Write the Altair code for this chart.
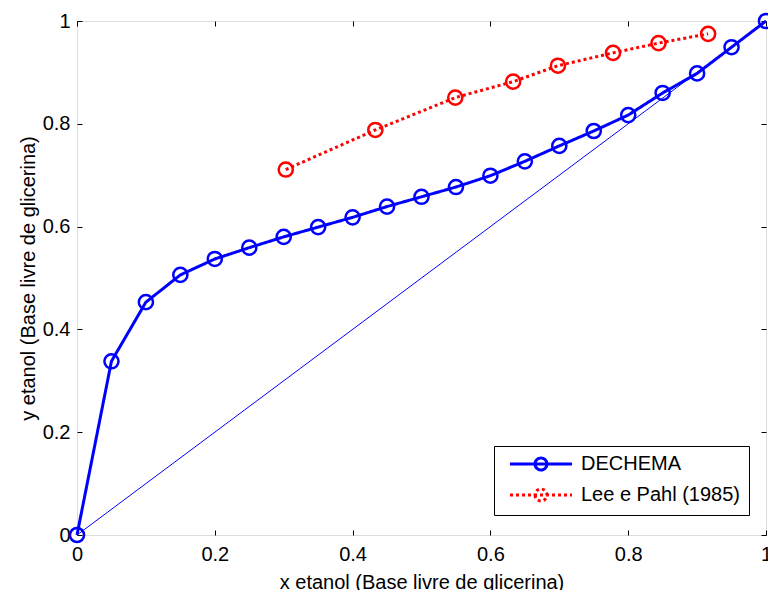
import altair as alt
import pandas as pd

series_names = ["DECHEMA", "Lee e Pahl (1985)"]

x_dechema = [0.00, 0.05, 0.10, 0.15, 0.20, 0.25, 0.30, 0.35, 0.40, 0.45, 0.50,
             0.55, 0.60, 0.65, 0.70, 0.75, 0.80, 0.85, 0.90, 0.95, 1.00]
y_dechema = [0.000, 0.338, 0.453, 0.506, 0.537, 0.559, 0.580, 0.599, 0.618, 0.639, 0.658,
             0.677, 0.699, 0.727, 0.757, 0.786, 0.817, 0.860, 0.898, 0.949, 1.000]

x_lee = [0.303, 0.433, 0.549, 0.633, 0.698, 0.778, 0.844, 0.916]
y_lee = [0.711, 0.788, 0.851, 0.882, 0.913, 0.938, 0.957, 0.975]

diag_x = [0.0, 1.0]
diag_y = [0.0, 1.0]

tick_vals = [0, 0.2, 0.4, 0.6, 0.8, 1]

df = pd.concat([
    pd.DataFrame({"x": x_dechema, "y": y_dechema, "serie": series_names[0]}),
    pd.DataFrame({"x": x_lee, "y": y_lee, "serie": series_names[1]}),
], ignore_index=True)
diag = pd.DataFrame({"x": diag_x, "y": diag_y})

FONT = "Liberation Sans"
FS = 20
xs = alt.Scale(domain=[0, 1], nice=False, zero=False)
ys = alt.Scale(domain=[0, 1], nice=False, zero=False)
color_scale = alt.Scale(domain=series_names, range=["#0000ff", "#ff0000"])
dash_scale = alt.Scale(domain=series_names, range=[[1, 0], [3, 3]])

common_axis = dict(values=tick_vals, format="~g", offset=-5, tickSize=5, domain=False,
                   grid=False, tickColor="black", labelFont=FONT, labelFontSize=FS,
                   labelColor="black", labelFlush=False, titleFont=FONT, titleFontSize=FS,
                   titleFontWeight="normal", titleColor="black")

ax_bottom = alt.Axis(orient="bottom", labelPadding=9, title="x etanol (Base livre de glicerina)",
                     titlePadding=8, **common_axis)
ax_left = alt.Axis(orient="left", labelPadding=7, title="y etanol (Base livre de glicerina)",
                   titlePadding=4, **common_axis)
ticks_only = dict(values=tick_vals, offset=-5, tickSize=5, domain=False, grid=False,
                  tickColor="black", labels=False, title=None)
ax_top = alt.Axis(orient="top", **ticks_only)
ax_right = alt.Axis(orient="right", **ticks_only)

sym_path = "M-4,0L4,0M-0.77,0A0.77,0.77,0,1,0,0.77,0A0.77,0.77,0,1,0,-0.77,0"
legend = alt.Legend(title=None, orient="none", legendX=417, legendY=425, padding=8,
                    strokeColor="black", fillColor="white", cornerRadius=0,
                    symbolType=sym_path, symbolSize=240, symbolStrokeWidth=3,
                    symbolOffset=29, labelOffset=30, rowPadding=7,
                    labelFont=FONT, labelFontSize=FS, labelColor="black")

diag_layer = alt.Chart(diag).mark_line(strokeWidth=1, color="#0000ff").encode(
    x=alt.X("x:Q", scale=xs, axis=ax_bottom),
    y=alt.Y("y:Q", scale=ys, axis=ax_left),
)

lines = alt.Chart(df).mark_line(strokeWidth=3).encode(
    x=alt.X("x:Q", scale=xs, axis=ax_top),
    y=alt.Y("y:Q", scale=ys, axis=ax_right),
    color=alt.Color("serie:N", scale=color_scale, legend=legend),
    strokeDash=alt.StrokeDash("serie:N", scale=dash_scale, legend=legend),
)

points = alt.Chart(df).mark_point(shape="circle", filled=False, size=200, strokeWidth=2.5,
                                  opacity=1).encode(
    x=alt.X("x:Q", scale=xs, axis=None),
    y=alt.Y("y:Q", scale=ys, axis=None),
    color=alt.Color("serie:N", scale=color_scale, legend=None),
)

chart = alt.layer(diag_layer, lines, points).resolve_axis(
    x="independent", y="independent"
).properties(
    width=689, height=514,
    padding={"left": 77, "top": 21, "right": 2, "bottom": 55},
    autosize=alt.AutoSizeParams(type="none"),
).configure_view(stroke="black", strokeWidth=1).configure(background="white")

chart.save("out.html", embed_options={"renderer": "svg", "actions": False})
